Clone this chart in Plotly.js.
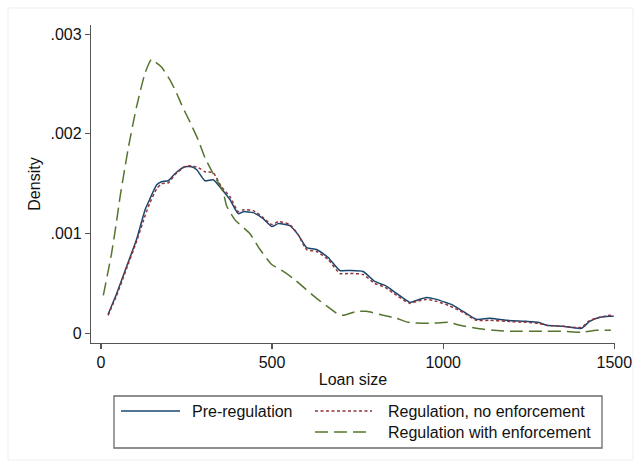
<!DOCTYPE html>
<html>
<head>
<meta charset="utf-8">
<script src="https://cdn.plot.ly/plotly-3.0.1.min.js"></script>
<style>
  html, body { margin: 0; padding: 0; background: #ffffff; }
  #chart { width: 634px; height: 463px; }
</style>
</head>
<body>
<div id="chart"></div>
<script>
// Kernel density of loan size, by regulation regime
var preX = [21, 46, 75, 104, 129, 142, 163, 177, 197, 216, 245, 265, 280, 304, 328, 352, 377, 401, 416, 445, 474, 499, 518, 552, 576, 601, 630, 664, 698, 727, 766, 800, 830, 864, 903, 922, 951, 981, 1015, 1024, 1058, 1097, 1136, 1185, 1243, 1278, 1302, 1350, 1404, 1428, 1458, 1487, 1498];
var preY = [0.00019, 0.00040, 0.00067, 0.00094, 0.00124, 0.00134, 0.00149, 0.00152, 0.00153, 0.00160, 0.00167, 0.00167, 0.00164, 0.00153, 0.00154, 0.00145, 0.00134, 0.00120, 0.00122, 0.00121, 0.00115, 0.00107, 0.00110, 0.00108, 0.00099, 0.00086, 0.00084, 0.00076, 0.00063, 0.00063, 0.00062, 0.00052, 0.00048, 0.00040, 0.00031, 0.00033, 0.00036, 0.00034, 0.00030, 0.00029, 0.00022, 0.00014, 0.00015, 0.00013, 0.00012, 0.00011, 0.00008, 0.00007, 0.00005, 0.00012, 0.00016, 0.00017, 0.00017];

var noEnfX = [21, 46, 75, 104, 129, 142, 163, 177, 197, 216, 245, 265, 285, 304, 328, 352, 377, 401, 416, 445, 474, 499, 518, 552, 576, 601, 630, 664, 698, 727, 766, 800, 830, 864, 903, 922, 951, 981, 1015, 1058, 1097, 1136, 1185, 1243, 1278, 1302, 1350, 1404, 1428, 1458, 1487, 1498];
var noEnfY = [0.00018, 0.00038, 0.00065, 0.00092, 0.00118, 0.00130, 0.00145, 0.00150, 0.00151, 0.00159, 0.00167, 0.00168, 0.00166, 0.00162, 0.00161, 0.00147, 0.00137, 0.00122, 0.00124, 0.00123, 0.00116, 0.00109, 0.00112, 0.00109, 0.00099, 0.00084, 0.00082, 0.00074, 0.00060, 0.00060, 0.00059, 0.00050, 0.00046, 0.00038, 0.00030, 0.00032, 0.00034, 0.00032, 0.00028, 0.00021, 0.00013, 0.00013, 0.00012, 0.00011, 0.00010, 0.00008, 0.00007, 0.00006, 0.00013, 0.00016, 0.00018, 0.00017];

var enfX = [7, 31, 46, 56, 80, 104, 129, 148, 163, 177, 202, 221, 236, 260, 284, 304, 328, 357, 367, 391, 435, 465, 499, 533, 562, 596, 630, 669, 693, 708, 747, 776, 825, 864, 898, 961, 1015, 1049, 1097, 1146, 1205, 1282, 1350, 1404, 1448, 1490];
var enfY = [0.00038, 0.00080, 0.00113, 0.00137, 0.00186, 0.00227, 0.00261, 0.00275, 0.00271, 0.00267, 0.00254, 0.00241, 0.00229, 0.00212, 0.00194, 0.00176, 0.00160, 0.00142, 0.00128, 0.00114, 0.00100, 0.00084, 0.00069, 0.00062, 0.00055, 0.00045, 0.00035, 0.00025, 0.00019, 0.00018, 0.00022, 0.00022, 0.00018, 0.00015, 0.00011, 0.00010, 0.00011, 0.00008, 0.00005, 0.00003, 0.00002, 0.00002, 0.00002, 0.00001, 0.00003, 0.00003];

var seriesNames = ['Pre-regulation', 'Regulation, no enforcement', 'Regulation with enforcement'];
var xTickVals = [0, 500, 1000, 1500];
var xTickText = ['0', '500', '1000', '1500'];
var yTickVals = [0, 0.001, 0.002, 0.003];
var yTickText = ['0', '.001', '.002', '.003'];

var colors = ['#1a476f', '#90353b', '#55752f'];
var dashes = ['solid', '3px,2.5px', '13px,6px'];
var FONT = 'Liberation Sans, Arial, sans-serif';
var FS = 16;

// Plot area in page pixels
var W = 634, H = 463;
var L = 91, R = 615, T = 25, B = 343;
function px(x) { return (x - L) / (R - L); }
function py(y) { return (B - y) / (B - T); }

var traces = [
  { x: preX, y: preY, name: seriesNames[0] },
  { x: noEnfX, y: noEnfY, name: seriesNames[1] },
  { x: enfX, y: enfY, name: seriesNames[2] }
].map(function (t, i) {
  return {
    type: 'scatter', mode: 'lines', x: t.x, y: t.y, name: t.name,
    line: { color: colors[i], width: 1.5, dash: dashes[i], shape: 'spline', smoothing: 0.5 },
    showlegend: false, hoverinfo: 'skip'
  };
});

// Legend box, drawn by hand in two columns
var shapes = [
  { type: 'rect', xref: 'paper', yref: 'paper', x0: px(8), x1: px(633), y0: py(8), y1: py(460),
    line: { color: '#efefef', width: 1 }, fillcolor: 'rgba(0,0,0,0)', layer: 'below' },
  { type: 'rect', xref: 'paper', yref: 'paper', x0: px(114), x1: px(602), y0: py(396), y1: py(448),
    line: { color: '#6a6a6a', width: 1.3 }, fillcolor: 'rgba(0,0,0,0)' }
];
var annotations = [];
var legendPos = [
  { x0: 121, x1: 180, y: 411, tx: 190 },
  { x0: 315, x1: 372, y: 411, tx: 386 },
  { x0: 315, x1: 372, y: 432, tx: 386 }
];
legendPos.forEach(function (p, i) {
  shapes.push({ type: 'line', xref: 'paper', yref: 'paper', x0: px(p.x0), x1: px(p.x1), y0: py(p.y), y1: py(p.y),
    line: { color: colors[i], width: 1.5, dash: dashes[i] } });
  annotations.push({ xref: 'paper', yref: 'paper', x: px(p.tx), y: py(p.y), xanchor: 'left', yanchor: 'middle',
    text: seriesNames[i], showarrow: false, font: { family: FONT, size: FS, color: '#111111' } });
});

var layout = {
  width: W, height: H,
  margin: { l: L, r: W - R, t: T, b: H - B, pad: 0 },
  paper_bgcolor: '#ffffff', plot_bgcolor: '#ffffff',
  font: { family: FONT, size: FS, color: '#111111' },
  showlegend: false,
  xaxis: {
    range: [-29, 1502], tickvals: xTickVals, ticktext: xTickText,
    showgrid: false, zeroline: false, showline: true, linecolor: '#555555', linewidth: 1.2,
    ticks: 'outside', ticklen: 5, tickwidth: 1.2, tickcolor: '#555555',
    tickfont: { family: FONT, size: FS, color: '#111111' },
    title: { text: 'Loan size', font: { family: FONT, size: FS, color: '#111111' }, standoff: 3 }
  },
  yaxis: {
    range: [-0.0000973, 0.003092], tickvals: yTickVals, ticktext: yTickText,
    showgrid: false, zeroline: false, showline: true, linecolor: '#555555', linewidth: 1.2,
    ticks: 'outside', ticklen: 5, tickwidth: 1.2, tickcolor: '#555555',
    tickfont: { family: FONT, size: FS, color: '#111111' },
    title: { text: 'Density', font: { family: FONT, size: FS, color: '#111111' }, standoff: 5 }
  },
  shapes: shapes,
  annotations: annotations
};

Plotly.newPlot('chart', traces, layout, { displayModeBar: false, staticPlot: true });
</script>
</body>
</html>
